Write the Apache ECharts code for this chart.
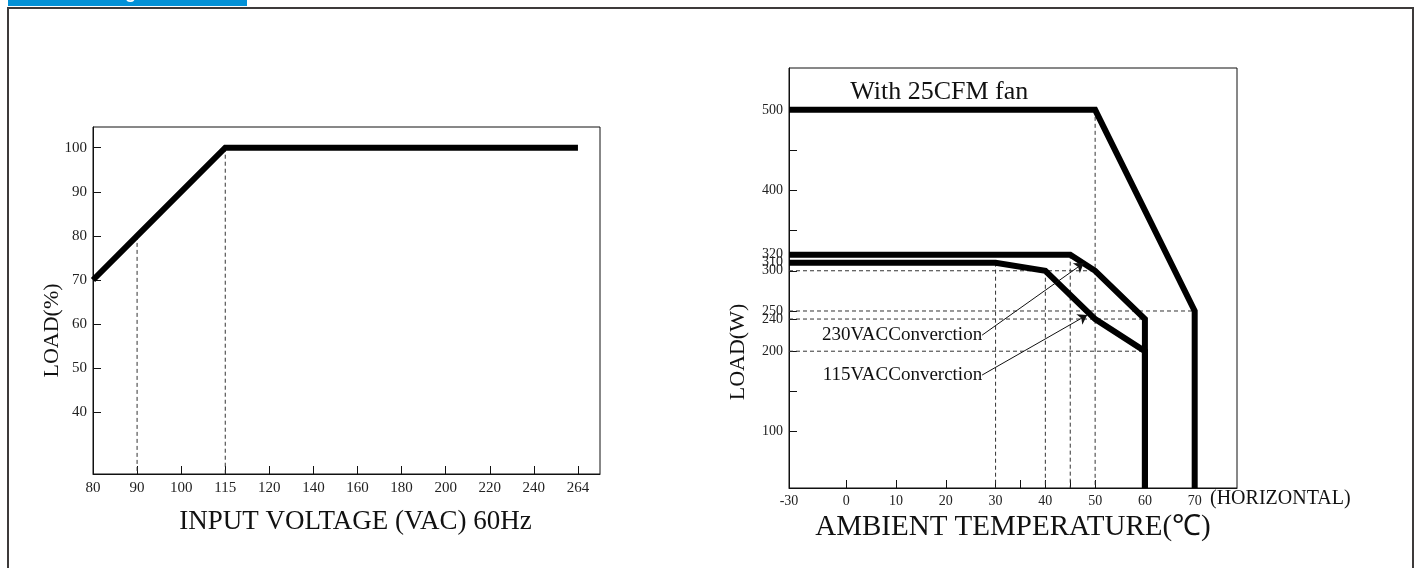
<!DOCTYPE html>
<html>
<head>
<meta charset="utf-8">
<title>Derating Curve</title>
<script src="https://cdn.jsdelivr.net/npm/echarts@6/dist/echarts.min.js"></script>
<style>
  html, body { margin: 0; padding: 0; background: #fff; }
  #chart { width: 1421px; height: 568px; }
</style>
</head>
<body>
<div id="chart"></div>
<script>
// 左图：输入电压 - 负载(%)
const voltTicks = ['80', '90', '100', '115', '120', '140', '160', '180', '200', '220', '240', '264']
const loadTicks = [40, 50, 60, 70, 80, 90, 100]
const inputCurve = [[80, 70], [90, 80], [115, 100], [264, 100]]
const inputGuides = [[90, 80], [115, 100]]
const loadFloor = 26

// 右图：环境温度 - 负载(W)
const tempTicks = [-30, 0, 10, 20, 30, 40, 50, 60, 70]
const tempMinorTicks = [35, 45]
const wattTicks = [100, 200, 240, 250, 300, 310, 320, 400, 500]
const wattMinorTicks = [150, 350, 450]
const wattFloor = 30
const fan25cfm = [[-30, 500], [50, 500], [70, 250], [70, 30]]
const conv230 = [[-30, 320], [45, 320], [50, 300], [60, 240], [60, 30]]
const conv115 = [[-30, 310], [30, 310], [40, 300], [50, 240], [60, 200], [60, 30]]
// 水平虚线: [起点温度, 负载, 终点温度]
const hGuides = [[-30, 300, 50], [-30, 250, 70], [-30, 240, 60], [-30, 200, 60]]
// 垂直虚线: [温度, 起点负载] -> 落到横轴
const vGuides = [[30, 310], [40, 300], [45, 320], [50, 500]]

const serif = '"Liberation Serif", "Times New Roman", serif'
const ink = '#111'

// 电压刻度是等间距的
const vx = v => voltTicks.indexOf(String(v))
// -30 到 0 这一段被压缩
const tx = t => t < 0 ? t * 11.5 / 30 : t

const thick = { color: '#000', width: 6, cap: 'butt', join: 'miter' }
const dashed = { color: '#333', width: 1, type: [4, 3] }

function guide(gridIdx, pts) {
  return {
    type: 'line', xAxisIndex: gridIdx, yAxisIndex: gridIdx,
    data: pts, symbol: 'none', silent: true, z: 1,
    lineStyle: dashed
  }
}

function curve(gridIdx, pts, extra) {
  return Object.assign({
    type: 'line', xAxisIndex: gridIdx, yAxisIndex: gridIdx,
    data: pts, symbol: 'none', z: 3,
    lineStyle: thick
  }, extra || {})
}

function arrowNote(text, from, to) {
  return {
    markLine: {
      silent: true,
      symbol: ['none', 'arrow'],
      symbolSize: 9,
      label: { show: false },
      lineStyle: { color: ink, width: 1, type: 'solid' },
      data: [[{ coord: from }, { coord: to }]]
    },
    markPoint: {
      silent: true,
      symbol: 'rect', symbolSize: 0,
      data: [{ coord: from }],
      label: {
        show: true, position: 'left', distance: 0,
        formatter: text, color: ink, fontSize: 19, fontFamily: serif
      }
    }
  }
}

const axisBase = {
  type: 'value',
  splitLine: { show: false },
  axisLine: { onZero: false, lineStyle: { color: ink, width: 1 } },
  nameMoveOverlap: false
}

let series = []
series.push(curve(0, inputCurve.map(([v, l]) => [vx(v), l])))
inputGuides.forEach(([v, l]) => series.push(guide(0, [[vx(v), l], [vx(v), loadFloor]])))

hGuides.forEach(([t1, w, t2]) => series.push(guide(1, [[tx(t1), w], [tx(t2), w]])))
vGuides.forEach(([t, w]) => series.push(guide(1, [[tx(t), w], [tx(t), wattFloor]])))

series.push(curve(1, fan25cfm.map(([t, w]) => [tx(t), w]), {
  markPoint: {
    silent: true, symbol: 'rect', symbolSize: 0,
    data: [{ coord: [0.8, 522] }],
    label: {
      show: true, position: 'right', distance: 0,
      formatter: 'With 25CFM fan', color: ink, fontSize: 26, fontFamily: serif
    }
  }
}))
series.push(curve(1, conv230.map(([t, w]) => [tx(t), w]), arrowNote('230VACConverction', [27.3, 220], [47.7, 309.6])))
series.push(curve(1, conv115.map(([t, w]) => [tx(t), w]), arrowNote('115VACConverction', [27.3, 170.4], [48.4, 245])))

const option = {
  animation: false,
  backgroundColor: '#fff',
  textStyle: { fontFamily: serif },
  grid: [
    { left: 93, top: 127, width: 507, height: 347, show: true, borderColor: ink, borderWidth: 1 },
    { left: 789, top: 68, width: 448, height: 420, show: true, borderColor: ink, borderWidth: 1 }
  ],
  xAxis: [
    Object.assign({}, axisBase, {
      gridIndex: 0, min: 0, max: 11.5,
      axisTick: { inside: true, length: 8, customValues: voltTicks.map((_, i) => i).slice(1), lineStyle: { color: ink } },
      axisLabel: {
        customValues: voltTicks.map((_, i) => i),
        formatter: v => voltTicks[Math.round(v)],
        color: '#222', fontSize: 15, margin: 7, hideOverlap: false
      },
      name: 'INPUT VOLTAGE (VAC) 60Hz', nameLocation: 'middle', nameGap: 34,
      nameTextStyle: { fontSize: 27, color: ink, padding: [0, 0, 0, 18] }
    }),
    Object.assign({}, axisBase, {
      gridIndex: 1, min: tx(-30), max: 78.5,
      axisTick: { inside: true, length: 8, customValues: tempTicks.slice(1).concat(tempMinorTicks).map(tx), lineStyle: { color: ink } },
      axisLabel: {
        customValues: tempTicks.map(tx),
        formatter: v => String(tempTicks[tempTicks.map(tx).indexOf(v)]),
        color: '#222', fontSize: 14, margin: 6, hideOverlap: false
      },
      name: 'AMBIENT TEMPERATURE(℃)', nameLocation: 'middle', nameGap: 25,
      nameTextStyle: { fontSize: 29, color: ink }
    })
  ],
  yAxis: [
    Object.assign({}, axisBase, {
      gridIndex: 0, min: loadFloor, max: 104.7,
      axisTick: { inside: true, length: 8, customValues: loadTicks, lineStyle: { color: ink } },
      axisLabel: { customValues: loadTicks, color: '#222', fontSize: 15, margin: 6, hideOverlap: false },
      name: 'LOAD(%)', nameLocation: 'middle', nameGap: 30,
      nameTextStyle: { fontSize: 22, color: ink, padding: [0, 60, 0, 0] }
    }),
    Object.assign({}, axisBase, {
      gridIndex: 1, min: wattFloor, max: 552,
      axisTick: { inside: true, length: 8, customValues: wattTicks.concat(wattMinorTicks), lineStyle: { color: ink } },
      axisLabel: { customValues: wattTicks, color: '#222', fontSize: 14, margin: 6, hideOverlap: false },
      name: 'LOAD(W)', nameLocation: 'middle', nameGap: 40,
      nameTextStyle: { fontSize: 22, color: ink, padding: [0, 148, 0, 0] }
    })
  ],
  graphic: [
    { type: 'rect', silent: true, shape: { x: 8, y: 8, width: 1405, height: 600 }, style: { fill: 'none', stroke: '#3d3a3a', lineWidth: 2 } },
    { type: 'rect', silent: true, shape: { x: 8, y: 0, width: 239, height: 6 }, style: { fill: '#0291d7' } },
    { type: 'text', silent: true, style: { text: 'Derating Curve', x: 127.5, y: 2, align: 'center', verticalAlign: 'bottom', font: 'bold 18px "Liberation Sans", Arial, sans-serif', fill: '#fff' } },
    { type: 'text', silent: true, style: { text: '(HORIZONTAL)', x: 1210, y: 499, verticalAlign: 'middle', font: '20px ' + serif, fill: ink } }
  ],
  series: series
}

const myChart = echarts.init(document.getElementById('chart'))
myChart.setOption(option)
window.addEventListener('resize', function () {
  myChart.resize()
})
</script>
</body>
</html>
